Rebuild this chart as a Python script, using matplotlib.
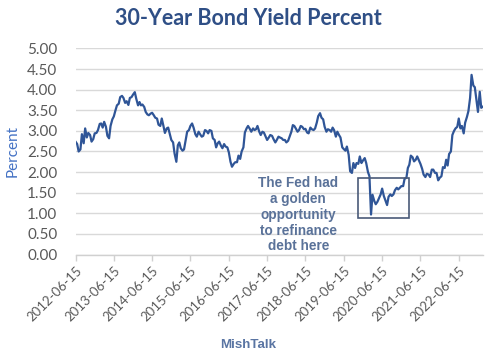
import matplotlib
matplotlib.use("Agg")
import matplotlib.pyplot as plt
import matplotlib.dates as mdates
import matplotlib.patches as mpatches
import pandas as pd
import numpy as np

# ---- data (semi-monthly readings of the 30-year yield, %) ----
start_date = "2012-06-15"
end_date = "2023-02-01"
y2012 = [2.74, 2.68, 2.50, 2.55, 2.92, 2.70, 3.06, 2.84, 2.95, 2.90, 2.74, 2.80, 2.94]
y2013 = [2.95, 3.02, 3.17, 3.18, 3.08, 3.22, 3.10, 2.88, 2.82, 3.12, 3.28, 3.35,
         3.50, 3.62, 3.66, 3.82, 3.85, 3.80, 3.68, 3.72, 3.63, 3.80, 3.82, 3.88]
y2014 = [3.94, 3.78, 3.62, 3.70, 3.62, 3.64, 3.58, 3.46, 3.40, 3.38, 3.42, 3.44,
         3.38, 3.32, 3.30, 3.15, 3.12, 3.30, 3.12, 2.95, 3.06, 3.08, 2.92, 2.78]
y2015 = [2.72, 2.45, 2.25, 2.65, 2.72, 2.58, 2.52, 2.55, 2.78, 2.98, 3.02, 3.12,
         3.18, 3.08, 2.92, 2.86, 2.98, 2.92, 2.86, 2.88, 3.02, 3.00, 2.94, 3.02]
y2016 = [3.00, 2.82, 2.78, 2.60, 2.70, 2.74, 2.64, 2.58, 2.68, 2.62, 2.60, 2.48,
         2.25, 2.13, 2.20, 2.24, 2.24, 2.40, 2.32, 2.50, 2.60, 2.96, 3.06, 3.12]
y2017 = [3.05, 2.98, 3.06, 3.02, 3.04, 3.12, 2.98, 2.90, 2.98, 2.96, 2.86, 2.78,
         2.84, 2.90, 2.88, 2.80, 2.72, 2.78, 2.86, 2.84, 2.82, 2.78, 2.78, 2.72]
y2018 = [2.76, 2.86, 2.98, 3.14, 3.12, 3.06, 2.98, 3.02, 3.12, 3.10, 3.04, 3.05,
         2.96, 2.94, 3.08, 3.04, 3.02, 3.06, 3.20, 3.36, 3.43, 3.32, 3.28, 3.10]
y2019 = [2.98, 3.04, 3.02, 2.98, 3.08, 3.02, 2.86, 2.98, 2.90, 2.84, 2.60, 2.56,
         2.52, 2.62, 2.42, 2.02, 1.98, 2.22, 2.10, 2.22, 2.20, 2.38, 2.22, 2.28]
y2020 = [2.34, 2.22, 2.00, 1.90, 0.97, 1.45, 1.30, 1.22, 1.28, 1.36, 1.46, 1.60,
         1.42, 1.32, 1.20, 1.40, 1.46, 1.42, 1.46, 1.56, 1.62, 1.58, 1.62, 1.66]
y2021 = [1.66, 1.84, 1.86, 2.10, 2.18, 2.40, 2.36, 2.26, 2.30, 2.38, 2.28, 2.20,
         2.08, 1.94, 1.88, 1.96, 1.94, 1.88, 2.06, 2.06, 1.98, 1.98, 1.80, 1.86]
y2022 = [1.90, 2.12, 2.10, 2.30, 2.16, 2.44, 2.50, 2.90, 3.00, 3.06, 3.10, 3.30,
         3.06, 3.12, 2.94, 3.20, 3.34, 3.48, 3.80, 4.36, 4.10, 4.06, 3.75, 3.46]
y2023 = [3.95, 3.56, 3.59]

yield_values = y2012 + y2013 + y2014 + y2015 + y2016 + y2017 + y2018 + y2019 + y2020 + y2021 + y2022 + y2023
dates = pd.date_range(start_date, end_date, freq="SMS")
tick_labels = [f"{y}-06-15" for y in range(2012, 2023)]
y_ticks = [0.0, 0.5, 1.0, 1.5, 2.0, 2.5, 3.0, 3.5, 4.0, 4.5, 5.0]

title = "30-Year Bond Yield Percent"
note = "The Fed had\na golden\nopportunity\nto refinance\ndebt here"

# ---- figure ----
fig = plt.figure(figsize=(5.0, 3.64), dpi=100)
ax = fig.add_axes([0.151, 0.3008, 0.815, 0.566])

line_color = "#2F5597"
ax.plot(dates, yield_values, color=line_color, lw=1.6, solid_joinstyle="round")

ax.set_xlim(pd.Timestamp(start_date), pd.Timestamp(end_date))
ax.set_ylim(0, 5)
ax.set_yticks(y_ticks)
ax.set_yticklabels([f"{v:.2f}" for v in y_ticks])
ax.set_xticks([pd.Timestamp(t) for t in tick_labels])
ax.set_xticklabels(tick_labels, rotation=45, ha="right", va="top", rotation_mode="anchor")

ax.grid(axis="y", color="#D9D9D9", lw=1.0)
ax.set_axisbelow(True)
for s in ["top", "right", "left"]:
    ax.spines[s].set_visible(False)
ax.spines["bottom"].set_color("#D0D0D0")
ax.spines["bottom"].set_linewidth(1.0)

ax.tick_params(axis="y", length=0, pad=13, labelsize=11, labelcolor="#595959")
ax.tick_params(axis="x", length=4, width=1.0, color="#D0D0D0", pad=3,
               labelsize=9.5, labelcolor="#595959")
for lab in ax.get_yticklabels() + ax.get_xticklabels():
    lab.set_fontfamily("Lato")

ax.set_ylabel("Percent", fontsize=11, color="#4472C4", family="Lato")
ax.yaxis.set_label_coords(-0.136, 0.5)

fig.text(0.496, 0.95, title, ha="center", va="center", fontsize=15.5,
         fontweight="bold", color="#2F4F86", family="Lato")
fig.text(0.496, 0.052, "MishTalk", ha="center", va="center", fontsize=9.6,
         fontweight="bold", color="#5A75A3", family="Liberation Sans")

# annotation box
bx0 = mdates.date2num(pd.Timestamp("2019-10-27"))
bx1 = mdates.date2num(pd.Timestamp("2021-02-24"))
rect = mpatches.Rectangle((bx0, 0.89), bx1 - bx0, 0.97, fill=False,
                          edgecolor="#4A5A78", lw=1.2, zorder=5)
ax.add_patch(rect)

ax.text(pd.Timestamp("2018-04-08"), 0.965, note, ha="center", va="center",
        fontsize=9.8, fontweight="bold", color="#5A7299", family="Liberation Sans",
        linespacing=1.16)

fig.savefig("out.png", dpi=100, facecolor="white")
